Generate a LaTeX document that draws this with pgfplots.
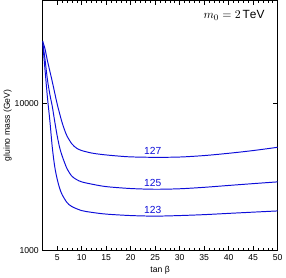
\documentclass[border=0pt]{standalone}
\usepackage{pgfplots}
\pgfplotsset{compat=1.18}
\usepackage{fontspec}
\setmainfont{Liberation Sans}
\definecolor{cblue}{rgb}{0.05,0.05,0.85}
\tikzset{curve/.style={draw=cblue, line width=0.9pt, smooth, mark=none}}
\begin{document}
\begin{tikzpicture}
\begin{axis}[
  scale only axis, width=218pt, height=232pt,
  xmin=2, xmax=50, ymode=log, ymin=1000, ymax=50000,
  xtick={5,10,...,50}, minor x tick num=4,
  ytick={1000,10000}, yticklabels={1000,10000},
  log basis y=10,
  tick align=inside, major tick length=4pt, minor tick length=2pt,
  tick style={black, line width=0.5pt},
  axis line style={line width=0.8pt},
  tick label style={font=\fontsize{8}{9}\selectfont},
  /pgf/number format/assume math mode=true,
  xlabel={tan β}, ylabel={gluino mass (GeV)},
  label style={font=\fontsize{8}{9}\selectfont},
  xlabel style={yshift=2pt},
  ylabel style={yshift=-4pt},
]
\addplot[curve] coordinates {(2,26500)(2.5,23500)(3,19500)(4,14000)(4.9,10200)(5.5,8500)(6,7400)(6.5,6600)(7,6000)(8,5300)(9,4950)(10,4780)(12,4600)(14,4500)(17,4400)(20,4330)(25,4300)(30,4320)(35,4420)(40,4580)(45,4780)(50,5030)};
\addplot[curve] coordinates {(2,26500)(2.5,20000)(3,14500)(3.5,11500)(4,9500)(4.5,7500)(5,6000)(5.5,5000)(6,4400)(7,3600)(8,3200)(9,3030)(10,2930)(12,2830)(15,2720)(20,2640)(25,2610)(30,2630)(35,2690)(40,2770)(45,2850)(50,2930)};
\addplot[curve] coordinates {(2,26500)(2.5,17000)(3,11000)(3.5,7600)(4,5000)(4.5,3700)(5,3050)(5.5,2650)(6,2400)(7,2120)(8,1990)(10,1870)(12,1820)(15,1770)(20,1730)(25,1715)(30,1730)(35,1755)(40,1790)(45,1825)(50,1860)};
\node[cblue, font=\fontsize{9.5}{10}\selectfont, anchor=base] at (axis cs:24.5,4500) {127};
\node[cblue, font=\fontsize{9.5}{10}\selectfont, anchor=base] at (axis cs:24.5,2720) {125};
\node[cblue, font=\fontsize{9.5}{10}\selectfont, anchor=base] at (axis cs:24.5,1800) {123};
\node[anchor=base east, inner sep=0pt, font=\fontsize{11}{12}\selectfont] at (rel axis cs:0.945,0.927) {$m_0 = 2\,\mathrm{TeV}$};
\end{axis}
\end{tikzpicture}
\end{document}
